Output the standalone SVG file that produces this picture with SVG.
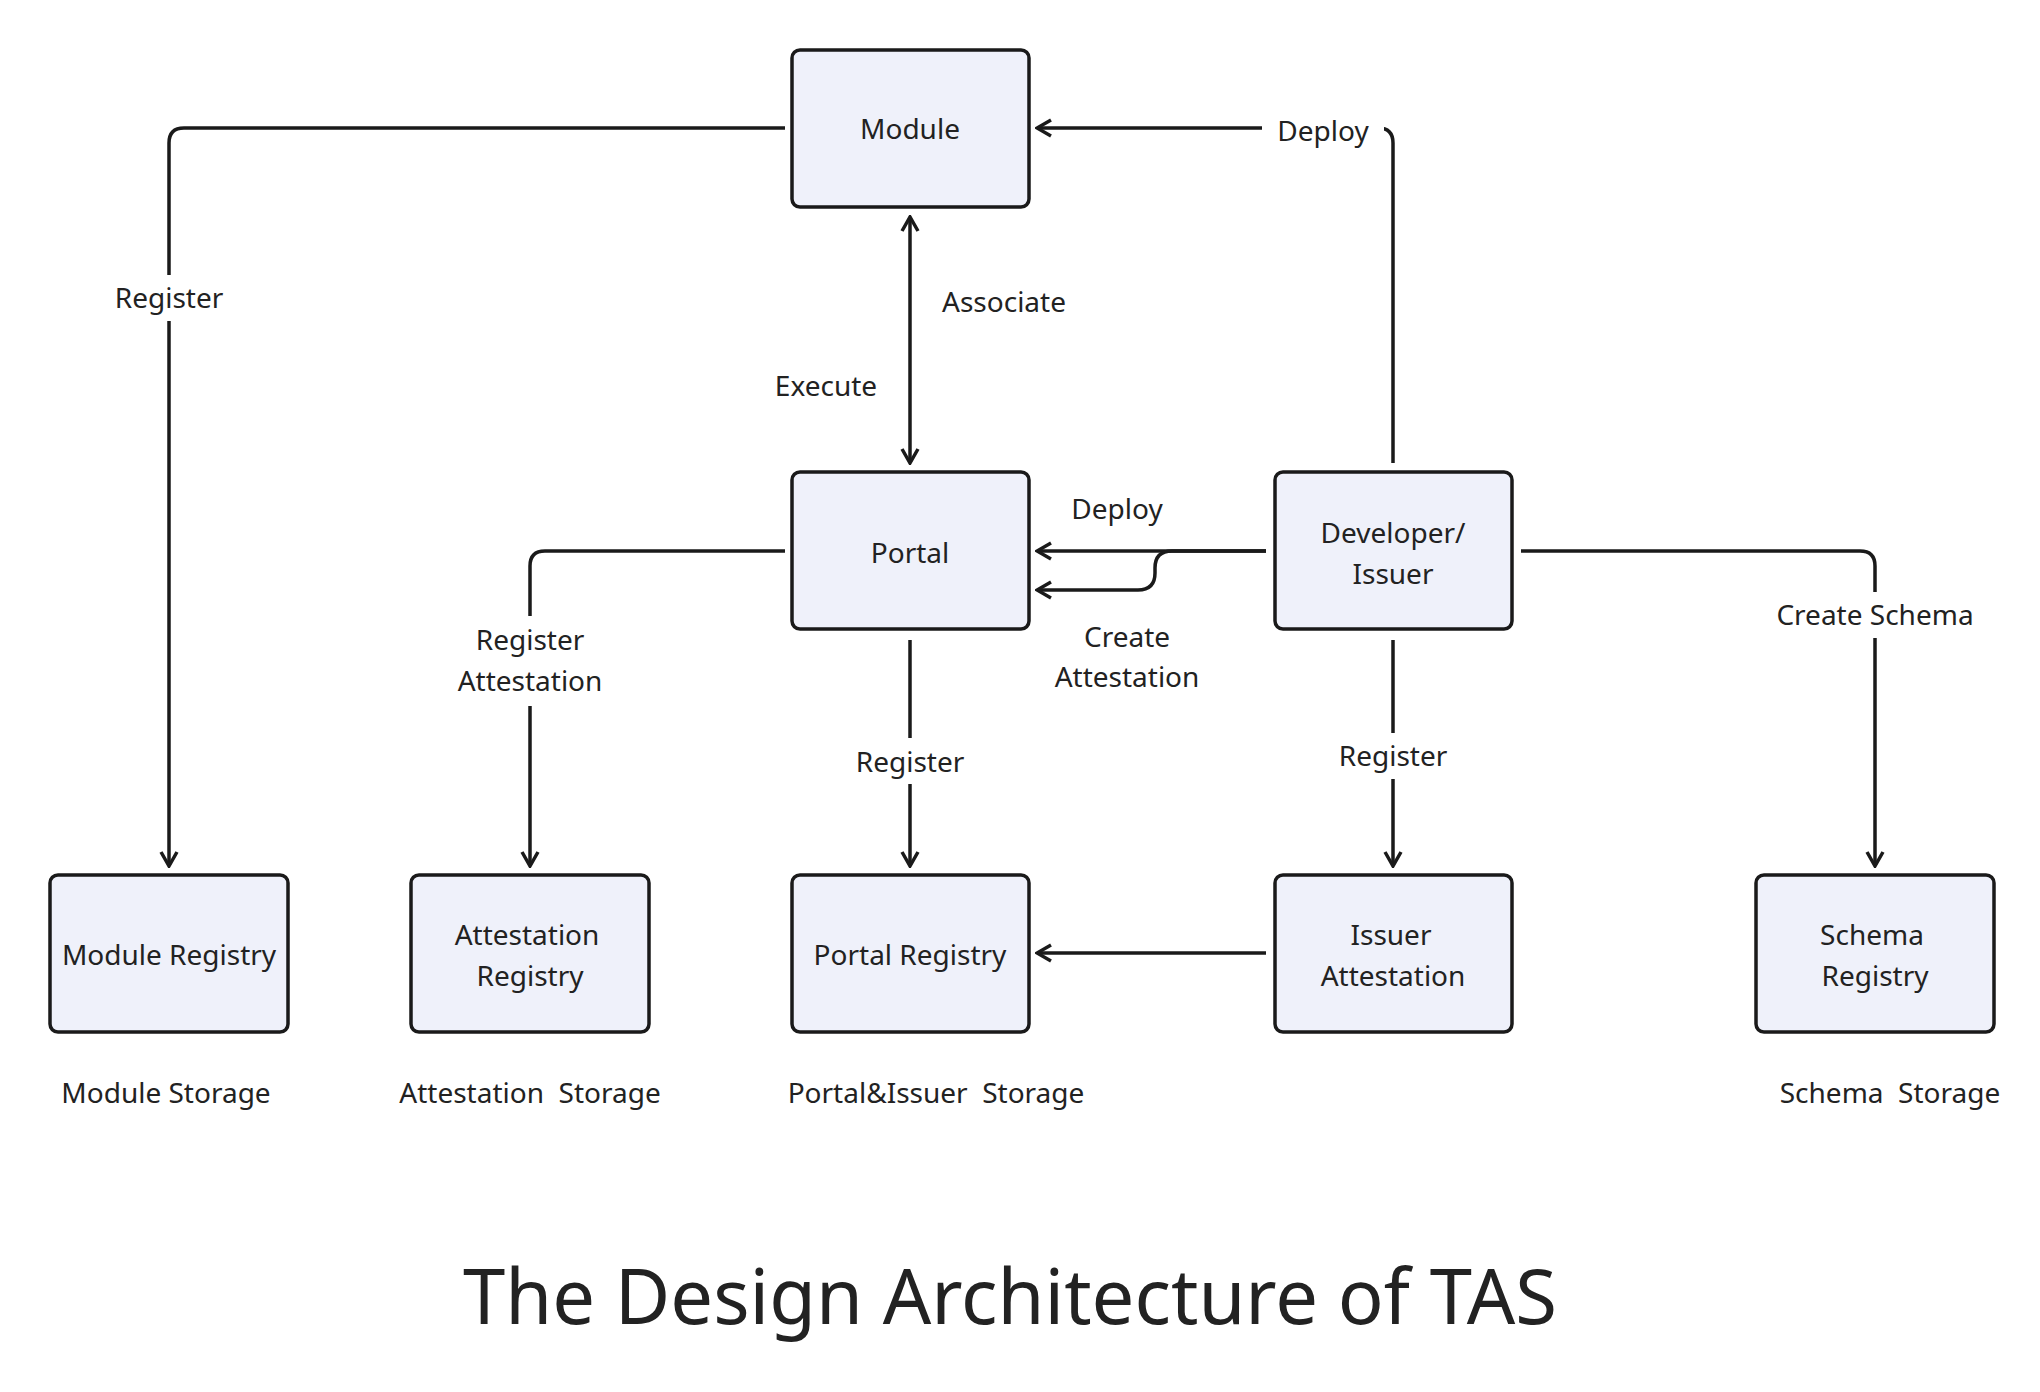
<svg xmlns="http://www.w3.org/2000/svg" width="2040" height="1392" viewBox="0 0 2040 1392">
<style>
.n{fill:#eff1fa;stroke:#1a1a1a;stroke-width:3.5}
.t{font-family:"Noto Sans",sans-serif;font-size:28px;fill:#222;text-anchor:middle}
.c{fill:none;stroke:#1a1a1a;stroke-width:3.5}
</style>
<defs>
<marker id="a" viewBox="0 0 20 20" refX="18" refY="10" markerWidth="20" markerHeight="20" markerUnits="userSpaceOnUse" orient="auto-start-reverse">
<path d="M4,2 L18,10 L4,18" fill="none" stroke="#1a1a1a" stroke-width="3.5"/>
</marker>
</defs>
<rect width="2040" height="1392" fill="#fff"/>
<g id="connectors">
<path class="c" d="M785,128 H184 Q169,128 169,143 V866" marker-end="url(#a)"/>
<path class="c" d="M1393,463 V143 Q1393,128 1378,128 H1037" marker-end="url(#a)"/>
<path class="c" d="M910,217 V463" marker-start="url(#a)" marker-end="url(#a)"/>
<path class="c" d="M785,551 H545 Q530,551 530,566 V866" marker-end="url(#a)"/>
<path class="c" d="M1266,551 H1037" marker-end="url(#a)"/>
<path class="c" d="M1266,551 H1172 Q1155,551 1155,568 V573 Q1155,590 1138,590 H1037" marker-end="url(#a)"/>
<path class="c" d="M910,640 V866" marker-end="url(#a)"/>
<path class="c" d="M1393,640 V866" marker-end="url(#a)"/>
<path class="c" d="M1521,551 H1860 Q1875,551 1875,566 V866" marker-end="url(#a)"/>
<path class="c" d="M1266,953 H1037" marker-end="url(#a)"/>
<g fill="#fff">
<rect x="110" y="275" width="120" height="46"/>
<rect x="1262" y="108" width="122" height="46"/>
<rect x="450" y="616" width="160" height="90"/>
<rect x="850" y="738" width="120" height="46"/>
<rect x="1333" y="733" width="120" height="46"/>
<rect x="1765" y="592" width="220" height="46"/>
</g>
</g>
<g class="t">
<text x="169" y="308">Register</text>
<text x="1323" y="141">Deploy</text>
<text x="1004" y="312">Associate</text>
<text x="826" y="396">Execute</text>
<text x="530" y="650">Register</text>
<text x="530" y="691">Attestation</text>
<text x="1117" y="519">Deploy</text>
<text x="1127" y="647">Create</text>
<text x="1127" y="687">Attestation</text>
<text x="910" y="772">Register</text>
<text x="1393" y="766">Register</text>
<text x="1875" y="625">Create Schema</text>
</g>
<g id="module"><rect class="n" x="792" y="50" width="237" height="157" rx="8"/><text class="t" x="910" y="139">Module</text></g>
<g id="portal"><rect class="n" x="792" y="472" width="237" height="157" rx="8"/><text class="t" x="910" y="563">Portal</text></g>
<g id="developer"><rect class="n" x="1275" y="472" width="237" height="157" rx="8"/><text class="t" x="1393" y="543">Developer/</text><text class="t" x="1393" y="584">Issuer</text></g>
<g id="module-registry"><rect class="n" x="50" y="875" width="238" height="157" rx="8"/><text class="t" x="169" y="965">Module Registry</text></g>
<g id="attestation-registry"><rect class="n" x="411" y="875" width="238" height="157" rx="8"/><text class="t" x="527" y="945">Attestation</text><text class="t" x="530" y="986">Registry</text></g>
<g id="portal-registry"><rect class="n" x="792" y="875" width="237" height="157" rx="8"/><text class="t" x="910" y="965">Portal Registry</text></g>
<g id="issuer-attestation"><rect class="n" x="1275" y="875" width="237" height="157" rx="8"/><text class="t" x="1391" y="945">Issuer</text><text class="t" x="1393" y="986">Attestation</text></g>
<g id="schema-registry"><rect class="n" x="1756" y="875" width="238" height="157" rx="8"/><text class="t" x="1872" y="945">Schema</text><text class="t" x="1875" y="986">Registry</text></g>
<g class="t">
<text x="166" y="1103">Module Storage</text>
<text x="530" y="1103" xml:space="preserve">Attestation  Storage</text>
<text x="936" y="1103" xml:space="preserve">Portal&amp;Issuer  Storage</text>
<text x="1890" y="1103" xml:space="preserve">Schema  Storage</text>
</g>
<text x="1010" y="1324" style="font-family:'Noto Sans',sans-serif;font-size:76px;fill:#222;text-anchor:middle">The Design Architecture of TAS</text>
</svg>
